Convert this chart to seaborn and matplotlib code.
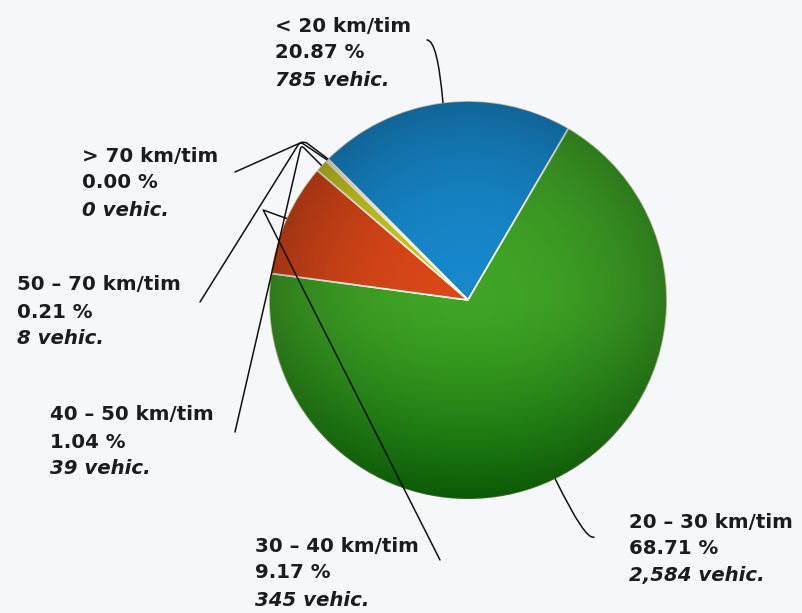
import numpy as np
import seaborn as sns
import matplotlib.pyplot as plt
from matplotlib.patches import Circle

# data
speed_bins = ["< 20 km/tim", "20 – 30 km/tim", "30 – 40 km/tim",
              "40 – 50 km/tim", "50 – 70 km/tim", "> 70 km/tim"]
vehicles = [785, 2584, 345, 39, 8, 0]
percent = [20.87, 68.71, 9.17, 1.04, 0.21, 0.00]
colors = ["#1788cc", "#3fa426", "#da4719", "#c9c920", "#f3efd6", "#f3efd6"]

W, H = 802, 613

# layout (pixel coords, y down): label left x / first line centre y, leader start, leader style
label_pos = [(275, 26), (629, 522), (255, 546), (50, 415), (17, 285), (82, 156)]
leader_from = [(427, 40), (594, 537), (440, 560), (235, 432), (200, 302), (235, 172)]
leader_style = [
    "angle3,angleA=0,angleB=95",
    "angle3,angleA=25,angleB=116",
    "angle,angleA=116.8,angleB=160,rad=0",
    "angle,angleA=77,angleB=135,rad=4",
    "angle,angleA=58,angleB=146,rad=4",
    "angle,angleA=24,angleB=143,rad=4",
]

sns.set_theme(style="white")
plt.rcParams["font.family"] = ["DejaVu Sans"]

fig = plt.figure(figsize=(W / 100, H / 100), dpi=100)
fig.patch.set_facecolor("#f6f7fb")
ax = fig.add_axes([0, 0, 1, 1])
ax.set_facecolor("#f6f7fb")

cx, cy, R = 468, H - 300, 199

wedges, _ = ax.pie(vehicles, colors=colors, startangle=134.8, counterclock=False,
                   center=(cx, cy), radius=R,
                   wedgeprops=dict(edgecolor="#fffbea", linewidth=1.2))

# soft shading like the original: darker rim, deep green towards the bottom
n = 400
gx, gy = np.meshgrid(np.linspace(-1, 1, n), np.linspace(-1, 1, n))
rr = np.sqrt(gx ** 2 + gy ** 2)
down = np.clip(-gy, 0, 1)
rim = np.zeros((n, n, 4))
rim[..., 3] = np.clip(0.26 * rr ** 2.2, 0, 1)
deep = np.zeros((n, n, 4))
deep[..., :3] = (0.0, 0.42, 0.0)
deep[..., 3] = np.clip(0.75 * down ** 1.3, 0, 1)
clip = Circle((cx, cy), R, transform=ax.transData)
for k, layer in enumerate([deep, rim]):
    im = ax.imshow(layer, extent=[cx - R, cx + R, cy - R, cy + R], origin="lower",
                   zorder=2 + k * 0.1, interpolation="bilinear")
    im.set_clip_path(clip)

for i, w in enumerate(wedges):
    mid = np.deg2rad((w.theta1 + w.theta2) / 2)
    tip = (cx + R * np.cos(mid), cy + R * np.sin(mid))
    sx, sy = leader_from[i]
    ax.annotate("", xy=tip, xytext=(sx, H - sy),
                arrowprops=dict(arrowstyle="-", connectionstyle=leader_style[i],
                                shrinkA=0, shrinkB=0, lw=1.1, color="#111111"),
                zorder=3)

    lx, ly = label_pos[i]
    lines = [speed_bins[i], f"{percent[i]:.2f} %", f"{vehicles[i]:,} vehic."]
    for j, txt in enumerate(lines):
        ax.text(lx, H - (ly + j * 27), txt, ha="left", va="center",
                fontsize=14.2, fontweight="bold", color="#1c1c1c",
                style="italic" if j == 2 else "normal", zorder=4)

ax.set_xlim(0, W)
ax.set_ylim(0, H)
ax.set_aspect("equal")
ax.axis("off")

fig.savefig("out.png", dpi=100, facecolor=fig.get_facecolor())
